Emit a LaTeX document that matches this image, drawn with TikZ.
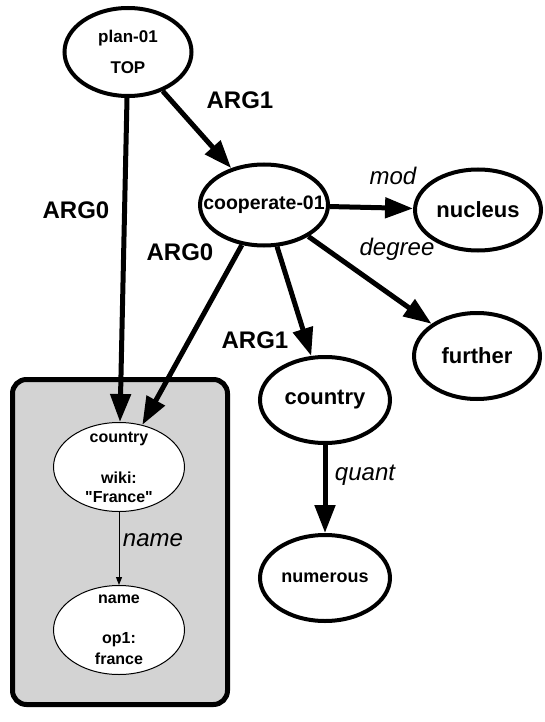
\documentclass[tikz,border=0pt]{standalone}
\usepackage{fontspec}
\setmainfont{Liberation Sans}[Ligatures=TeXOff]
\usetikzlibrary{shapes.geometric,arrows.meta}
\definecolor{boxgray}{RGB}{211,211,211}
\begin{document}
\begin{tikzpicture}[x=1pt,y=-1pt,
 big/.style={ellipse,draw,line width=4pt,inner sep=0pt},
 small/.style={ellipse,draw,line width=1pt,fill=white,inner sep=0pt,minimum width=131pt,minimum height=89pt},
 txt/.style={align=center,inner sep=0pt,font=\bfseries\fontsize{22}{26}\selectfont},
 rel/.style={line width=5pt,-{Triangle[length=28pt,width=20pt]}},
 thinrel/.style={line width=1pt,-{Triangle[length=8pt,width=6pt]}},
 rlab/.style={font=\bfseries\fontsize{24}{28}\selectfont},
 ilab/.style={font=\itshape\fontsize{24}{28}\selectfont}]
\useasboundingbox (0,0) rectangle (544,722);
% group box
\node (grp) [draw,line width=5pt,rounded corners=14pt,fill=boxgray,minimum width=215pt,minimum height=325pt,inner sep=0pt] at (120,542) {};
% nodes
\node (plan) [big,minimum width=127pt,minimum height=88pt,
  label={[txt,font=\bfseries\fontsize{17}{31}\selectfont]center:plan-01\\TOP}] at (128,52) {};
\node (coop) [big,minimum width=128pt,minimum height=81pt,
  label={[txt,font=\bfseries\fontsize{19.5}{23}\selectfont]center:cooperate-01}] at (264,205) {};
\node (nuc) [big,minimum width=126pt,minimum height=81pt,label={[txt]center:nucleus}] at (478,210) {};
\node (fur) [big,minimum width=126pt,minimum height=86pt,label={[txt]center:further}] at (477,356) {};
\node (ctry) [big,minimum width=130pt,minimum height=86pt,label={[txt]center:country}] at (325,400) {};
\node (num) [big,minimum width=130pt,minimum height=86pt,
  label={[txt,font=\bfseries\fontsize{18}{22}\selectfont]center:numerous}] at (325,578) {};
\node (cin) [small,
  label={[txt,font=\bfseries\fontsize{16}{19}\selectfont]center:country\\[22pt]wiki:\\"France"}] at (119,467) {};
\node (nin) [small,
  label={[txt,font=\bfseries\fontsize{16}{21}\selectfont]center:name\\[19pt]op1:\\france}] at (119,630) {};
% edges
\draw[rel] (plan) -- (cin);
\draw[rel] (plan) -- (coop);
\draw[rel] (coop) -- (cin);
\draw[rel] (coop) -- (nuc);
\draw[rel] (coop) -- (fur);
\draw[rel] (coop) -- (ctry);
\draw[rel] (ctry) -- (num);
\draw[thinrel] (cin) -- (nin);
% labels
\node (l1) [rlab] at (76,210) {ARG0};
\node (l2) [rlab] at (240,100) {ARG1};
\node (l3) [rlab] at (180,252) {ARG0};
\node (l4) [rlab] at (255,340) {ARG1};
\node (l5) [ilab] at (393,176) {mod};
\node (l6) [ilab] at (397,249) {degree};
\node (l7) [ilab] at (365,475) {quant};
\node (l8) [ilab] at (153,540) {name};
\end{tikzpicture}
\end{document}
